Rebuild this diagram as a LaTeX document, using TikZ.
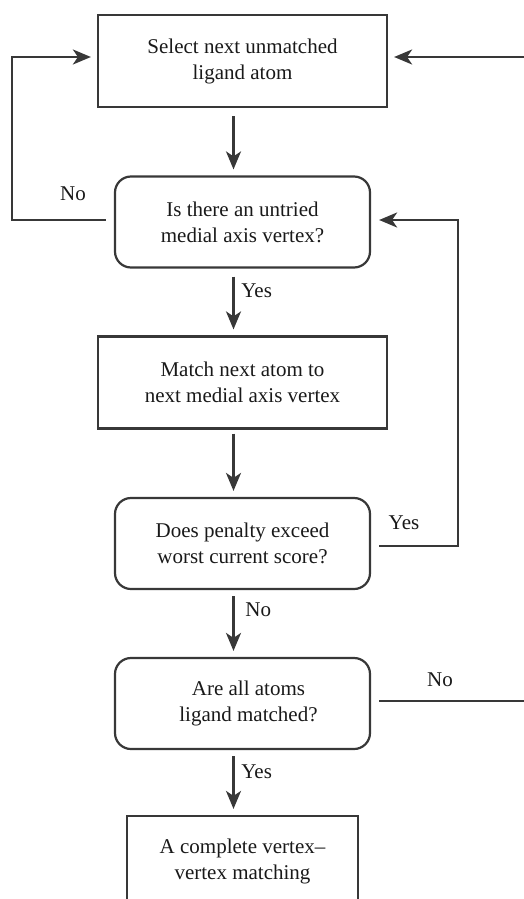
\documentclass[tikz,border=0pt]{standalone}
\usepackage{fontspec}
\setmainfont{Liberation Serif}
\usetikzlibrary{arrows.meta}

\begin{document}
\begin{tikzpicture}[x=1pt, y=-1pt, line width=2.2pt, draw=black!78,
  every node/.style={font=\fontsize{21}{26}\selectfont, align=center, text=black!90},
  stepbox/.style={draw=black!78, rectangle, minimum width=289pt, minimum height=92pt, inner sep=0pt},
  askbox/.style={draw=black!78, rectangle, rounded corners=16pt, minimum width=255pt, minimum height=91pt, inner sep=0pt},
  arr/.style={draw=black!78, -{Stealth[length=18pt, width=15pt, inset=5pt]}}]
  % 画布 524 x 899, 底部方框被裁掉
  \clip (0,0) rectangle (524,899);
  \useasboundingbox (0,0) rectangle (524,899);
  % 各框中心
  \node[stepbox] (sel) at (242.5,61) {Select next unmatched\\ligand atom};
  \node[askbox] (q1) at (242.5,222) {Is there an untried\\medial axis vertex?};
  \node[stepbox] (match) at (242.5,382.5) {Match next atom to\\next medial axis vertex};
  \node[askbox] (q2) at (242.5,543.5) {Does penalty exceed\\worst current score?};
  \node[askbox] (q3) at (242.5,703.5) {\hspace*{12pt}Are all atoms\\\hspace*{12pt}ligand matched?};
  \node[stepbox, minimum width=231pt, minimum height=90pt] (done) at (242.5,861) {A complete vertex--\\vertex matching};
  % 回路拐点
  \coordinate (lft) at (12,57);
  \coordinate (rtop) at (524,57);
  \coordinate (ryes) at (458,546);
  \coordinate (rno) at (524,701);
  % 主干箭头 (yshift 按画布方向, 向下为负)
  \draw[arr] ([xshift=-9pt, yshift=-8pt]sel.south) -- ([xshift=-9pt, yshift=6pt]q1.north);
  \draw[arr] ([xshift=-9pt, yshift=-8pt]q1.south) -- ([xshift=-9pt, yshift=6pt]match.north);
  \draw[arr] ([xshift=-9pt, yshift=-4pt]match.south) -- ([xshift=-9pt, yshift=6pt]q2.north);
  \draw[arr] ([xshift=-9pt, yshift=-6pt]q2.south) -- ([xshift=-9pt, yshift=6pt]q3.north);
  \draw[arr] ([xshift=-9pt, yshift=-6pt]q3.south) -- ([xshift=-9pt, yshift=6pt]done.north);
  % 回路
  \draw[arr] ([xshift=-8pt, yshift=2pt]q1.west) -| (lft) -- ([xshift=-6pt, yshift=4pt]sel.west);
  \draw[arr] (rtop) -- ([xshift=6pt, yshift=4pt]sel.east);
  \draw[arr] ([xshift=8pt, yshift=-2.5pt]q2.east) -| (ryes) |- ([xshift=8pt, yshift=2pt]q1.east);
  \draw ([xshift=8pt, yshift=2.5pt]q3.east) -- (rno);
  % 标注
  \node[anchor=west] (yes1) at (237,291) {Yes};
  \node[anchor=west] (no1) at (241,610) {No};
  \node[anchor=west] (yes2) at (237,772) {Yes};
  \node (no2) at (73,194) {No};
  \node (yes3) at (404,523) {Yes};
  \node (no3) at (440,680) {No};
\end{tikzpicture}
\end{document}
